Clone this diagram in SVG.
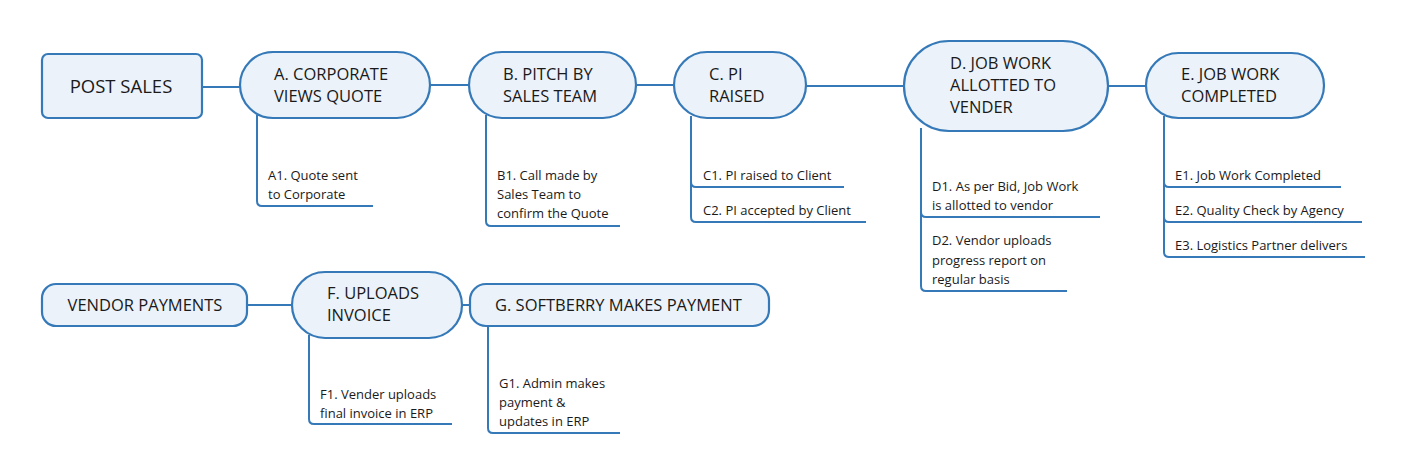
<svg xmlns="http://www.w3.org/2000/svg" width="1405" height="476" viewBox="0 0 1405 476">
<style>
.box{fill:#EBF2F9;stroke:#3579B8;stroke-width:2.2}
.ln{fill:none;stroke:#3579B8;stroke-width:2}
.t{font-family:"Open Sans","Noto Sans",sans-serif;font-size:16.5px;fill:#1a1a1a}
.big{font-size:18.5px}
.s{font-family:"Open Sans","Noto Sans",sans-serif;font-size:13px;fill:#1a1a1a}
</style>
<rect width="1405" height="476" fill="#fff"/>
<g id="connectors">
<line class="ln" x1="202" y1="87" x2="240" y2="87"/>
<line class="ln" x1="430" y1="85" x2="469" y2="85"/>
<line class="ln" x1="636" y1="85" x2="674" y2="85"/>
<line class="ln" x1="806" y1="86" x2="904" y2="86"/>
<line class="ln" x1="1108" y1="86" x2="1146" y2="86"/>
<line class="ln" x1="247" y1="305" x2="292" y2="305"/>
<line class="ln" x1="462" y1="305" x2="470" y2="305"/>
<path class="ln" d="M257 115 V201 Q257 206 262 206 H373"/>
<path class="ln" d="M486 115 V221 Q486 226 491 226 H620"/>
<path class="ln" d="M691 116 V182 Q691 187 696 187 H844 M691 182 V217 Q691 222 696 222 H866"/>
<path class="ln" d="M921 128 V212 Q921 217 926 217 H1100 M921 212 V286 Q921 291 926 291 H1067"/>
<path class="ln" d="M1164 116 V182 Q1164 187 1169 187 H1341 M1164 182 V217 Q1164 222 1169 222 H1362 M1164 217 V252 Q1164 257 1169 257 H1365"/>
<path class="ln" d="M309 335 V419 Q309 424 314 424 H452"/>
<path class="ln" d="M488 326 V428 Q488 433 493 433 H620"/>
</g>
<g id="post-sales">
<rect class="box" x="42" y="54" width="160" height="64" rx="6"/>
<text class="t big" x="121" y="93" text-anchor="middle">POST SALES</text>
</g>
<g id="node-a">
<rect class="box" x="240" y="52" width="190" height="66" rx="33"/>
<text class="t" x="274" y="80">A. CORPORATE</text>
<text class="t" x="274" y="102">VIEWS QUOTE</text>
</g>
<g id="node-a1">
<text class="s" x="268" y="180">A1. Quote sent</text>
<text class="s" x="268" y="199">to Corporate</text>
</g>
<g id="node-b">
<rect class="box" x="469" y="52" width="167" height="66" rx="33"/>
<text class="t" x="503" y="80">B. PITCH BY</text>
<text class="t" x="503" y="102">SALES TEAM</text>
</g>
<g id="node-b1">
<text class="s" x="497" y="180">B1. Call made by</text>
<text class="s" x="497" y="199">Sales Team to</text>
<text class="s" x="497" y="218">confirm the Quote</text>
</g>
<g id="node-c">
<rect class="box" x="674" y="52" width="132" height="66" rx="33"/>
<text class="t" x="709" y="80">C. PI</text>
<text class="t" x="709" y="102">RAISED</text>
</g>
<g id="node-c1"><text class="s" x="703" y="180">C1. PI raised to Client</text></g>
<g id="node-c2"><text class="s" x="703" y="215">C2. PI accepted by Client</text></g>
<g id="node-d">
<rect class="box" x="904" y="41" width="204" height="90" rx="45"/>
<text class="t" x="950" y="69">D. JOB WORK</text>
<text class="t" x="950" y="91">ALLOTTED TO</text>
<text class="t" x="950" y="113">VENDER</text>
</g>
<g id="node-d1">
<text class="s" x="932" y="191">D1. As per Bid, Job Work</text>
<text class="s" x="932" y="210">is allotted to vendor</text>
</g>
<g id="node-d2">
<text class="s" x="932" y="245">D2. Vendor uploads</text>
<text class="s" x="932" y="265">progress report on</text>
<text class="s" x="932" y="284">regular basis</text>
</g>
<g id="node-e">
<rect class="box" x="1146" y="53" width="178" height="65" rx="32.5"/>
<text class="t" x="1181" y="80">E. JOB WORK</text>
<text class="t" x="1181" y="102">COMPLETED</text>
</g>
<g id="node-e1"><text class="s" x="1175" y="180">E1. Job Work Completed</text></g>
<g id="node-e2"><text class="s" x="1175" y="215">E2. Quality Check by Agency</text></g>
<g id="node-e3"><text class="s" x="1175" y="250">E3. Logistics Partner delivers</text></g>
<g id="vendor-payments">
<rect class="box" x="42" y="284" width="205" height="42" rx="14"/>
<text class="t" x="145" y="311" text-anchor="middle">VENDOR PAYMENTS</text>
</g>
<g id="node-f">
<rect class="box" x="292" y="272" width="170" height="66" rx="33"/>
<text class="t" x="327" y="299">F. UPLOADS</text>
<text class="t" x="327" y="321">INVOICE</text>
</g>
<g id="node-f1">
<text class="s" x="320" y="399">F1. Vender uploads</text>
<text class="s" x="320" y="418">final invoice in ERP</text>
</g>
<g id="node-g">
<rect class="box" x="470" y="284" width="299" height="42" rx="16"/>
<text class="t" x="495" y="311">G. SOFTBERRY MAKES PAYMENT</text>
</g>
<g id="node-g1">
<text class="s" x="499" y="388">G1. Admin makes</text>
<text class="s" x="499" y="407">payment &amp;</text>
<text class="s" x="499" y="426">updates in ERP</text>
</g>
</svg>
